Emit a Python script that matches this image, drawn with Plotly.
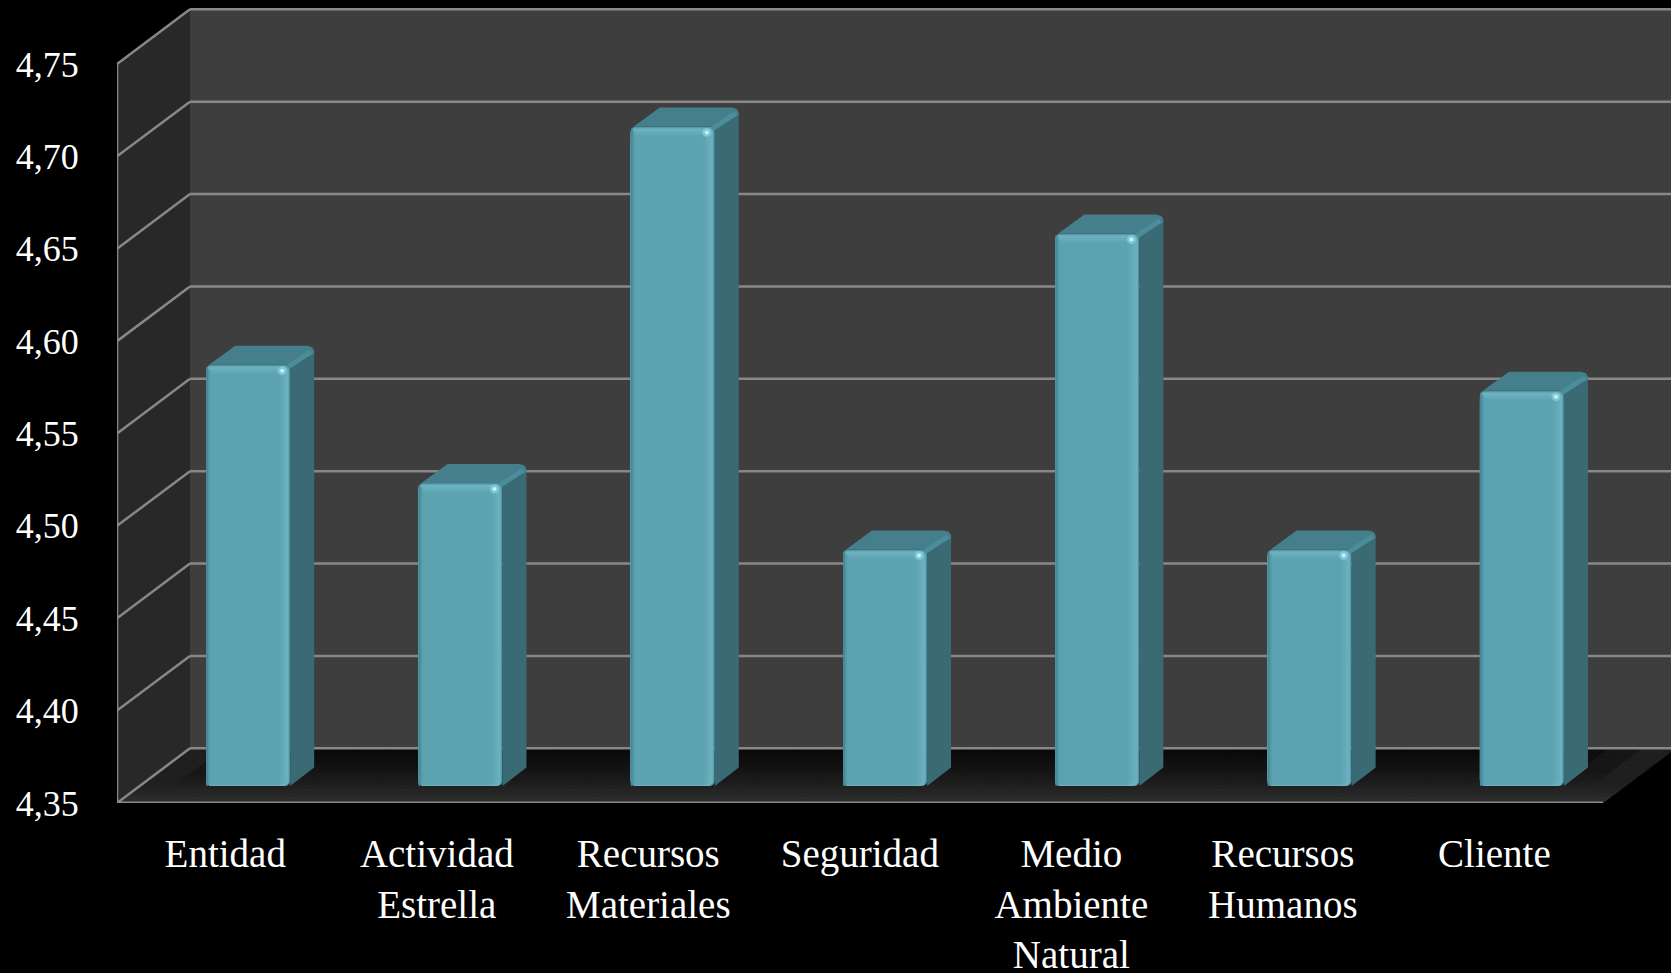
import plotly.graph_objects as go

# ---- data ----
categories = ["Entidad", "Actividad<br>Estrella", "Recursos<br>Materiales", "Seguridad",
              "Medio<br>Ambiente<br>Natural", "Recursos<br>Humanos", "Cliente"]
values = [4.578, 4.514, 4.707, 4.478, 4.649, 4.478, 4.564]
y_ticks = [4.35, 4.40, 4.45, 4.50, 4.55, 4.60, 4.65, 4.70, 4.75]

# ---- geometry / style (axis units per screen pixel) ----
W, H = 1671, 973
ML, MB, MT = 117, 170, 1
PX = 1 / 212.3        # one px in x units
PY = 1 / 1847.5       # one px in y units
Y0, Y1 = y_ticks[0], y_ticks[-1]
XMAX = (W - ML) * PX
YMAX = Y0 + (H - MB - MT) * PY
NCAT = len(categories)
DX, DY = 73 * PX, 54.7 * PY         # depth of the box
BAR_W_PX = 84
BAR_W = BAR_W_PX * PX
BAR_SX, BAR_SY = 25 * PX, 17 * PY   # bar front face inside the depth
SIDE_DX, SIDE_DY = 24 * PX, 18.5 * PY
GRID = "#888888"
FONT = "Liberation Serif"

shapes = []


def poly(pts, fill):
    path = "M" + " L".join(f"{x:.5f},{y:.5f}" for x, y in pts) + " Z"
    shapes.append(dict(type="path", path=path, xref="x", yref="y", layer="below",
                       fillcolor=fill, line=dict(width=0)))


def seg(x0, y0, x1, y1, w=2.5, color=GRID):
    shapes.append(dict(type="line", x0=x0, y0=y0, x1=x1, y1=y1, xref="x", yref="y",
                       layer="below", line=dict(color=color, width=w)))


# walls
poly([(DX, Y0 + DY), (XMAX, Y0 + DY), (XMAX, Y1 + DY), (DX, Y1 + DY)], "#3e3e3e")
poly([(0, Y0), (DX, Y0 + DY), (DX, Y1 + DY), (0, Y1)], "#282828")

# floor with soft shadow: painter's order back to front, cells overlap so no seams
NU, NT = 44, 14
for jt in range(NT):
    t0 = min(1.0, 1 - (jt - 0.6) / NT)
    t1 = 1 - (jt + 1) / NT
    tm = 1 - (jt + .5) / NT
    for iu in range(NU):
        u0 = iu / NU
        u1 = 1.0 if iu == NU - 1 else (iu + 1.6) / NU
        um = (iu + .5) / NU
        edge = max(0.0, 1 - min(um, 1 - um) / 0.07)
        f = max((1 - tm) ** 1.4, 0.75 * edge)
        b = int(9 + 36 * f)
        c = f"rgb({b},{b},{b})"
        pts = [(u0 * NCAT + t1 * DX, Y0 + t1 * DY), (u1 * NCAT + t1 * DX, Y0 + t1 * DY),
               (u1 * NCAT + t0 * DX, Y0 + t0 * DY), (u0 * NCAT + t0 * DX, Y0 + t0 * DY)]
        poly(pts, c)

# grid lines
for v in y_ticks:
    seg(0, v, DX, v + DY)
    seg(DX, v + DY, XMAX, v + DY)
seg(0, Y0, 0, Y1)
seg(0, Y0, NCAT, Y0, 3)

fig = go.Figure()

# bar front faces: nested layers give the bevel
# (left inset, right inset, top inset, bottom inset, colour) in px
layers = [
    (0, 0, 0, 0, "#4c8e9c"),
    (0, 1, 1, 0, "#5ea5b3"),
    (0, 2, 2, 0, "#6bb1c0"),
    (0, 4, 4, 1, "#68aebc"),
    (0, 6, 6, 1, "#63a9b7"),
    (0, 9, 8, 1, "#5ea4b2"),
    (0, 12, 10, 1, "#5ca2b0"),
    (0, BAR_W_PX - 4, 4, 1, "#559aa8"),
    (0, BAR_W_PX - 2, 2, 0, "#478997"),
]
xc = [i + .5 + BAR_SX for i in range(NCAT)]
base = Y0 + BAR_SY
for li, ri, ti, bi, col in layers:
    fig.add_trace(go.Bar(
        x=[c + (li - ri) / 2 * PX for c in xc],
        y=[v - Y0 - (ti + bi) * PY for v in values],
        base=base + bi * PY,
        width=BAR_W - (li + ri) * PX,
        marker=dict(color=col, line=dict(width=0)),
        hoverinfo="skip", showlegend=False))

# side and top faces, same values
for c, v in zip(xc, values):
    L, R = c - BAR_W / 2, c + BAR_W / 2
    top = v + BAR_SY
    fig.add_trace(go.Scatter(
        x=[R, R + SIDE_DX, R + SIDE_DX, R], y=[base, base + SIDE_DY, top + SIDE_DY - 6 * PY, top],
        fill="toself", fillcolor="#3a6b74", mode="none", hoverinfo="skip", showlegend=False))
    fig.add_trace(go.Scatter(
        x=[L + 3 * PX, L + 29 * PX, R + SIDE_DX - 7 * PX, R + SIDE_DX - 2 * PX, R + SIDE_DX, R + SIDE_DX, R - 2 * PX],
        y=[top, top + 19 * PY, top + 19 * PY, top + 17.5 * PY, top + 14 * PY, top + 11 * PY, top],
        fill="toself", fillcolor="#457f8b", mode="none", hoverinfo="skip", showlegend=False))
    fig.add_trace(go.Scatter(
        x=[R - 2 * PX, R + SIDE_DX - 3 * PX], y=[top - 2 * PY, top + 13 * PY],
        mode="lines", line=dict(color="#4b8d9a", width=5), hoverinfo="skip", showlegend=False))
    fig.add_trace(go.Scatter(
        x=[R - 8 * PX], y=[top - 6 * PY], mode="markers",
        marker=dict(size=9, color="rgba(160,230,240,0.45)", line=dict(width=0)),
        hoverinfo="skip", showlegend=False))
    fig.add_trace(go.Scatter(
        x=[R - 8 * PX], y=[top - 6 * PY], mode="markers",
        marker=dict(size=4, color="#c6f3fb", line=dict(width=0)),
        hoverinfo="skip", showlegend=False))

label_pos = [0.51 + i * 0.9963 for i in range(NCAT)]

fig.update_layout(
    width=W, height=H, autosize=False,
    margin=dict(l=ML, r=0, t=MT, b=MB, pad=0, autoexpand=False),
    paper_bgcolor="#000000", plot_bgcolor="#000000",
    barmode="overlay", barcornerradius=5, separators=", ",
    showlegend=False, shapes=shapes,
    font=dict(family=FONT, color="#ffffff"),
    xaxis=dict(range=[0, XMAX], tickmode="array", tickvals=label_pos,
               ticktext=categories, showgrid=False, zeroline=False, showline=False,
               ticks="outside", ticklen=16, tickcolor="rgba(0,0,0,0)", tickangle=0,
               tickfont=dict(family=FONT, size=39, color="#ffffff")),
    yaxis=dict(range=[Y0, YMAX], tickmode="array", tickvals=y_ticks, tickformat=".2f",
               showgrid=False, zeroline=False, showline=False,
               ticks="outside", ticklen=30, tickcolor="rgba(0,0,0,0)",
               tickfont=dict(family=FONT, size=36, color="#ffffff")),
)

fig.write_html("out.html", config=dict(displayModeBar=False),
               post_script="document.body.style.margin='0';document.body.style.overflow='hidden';")
